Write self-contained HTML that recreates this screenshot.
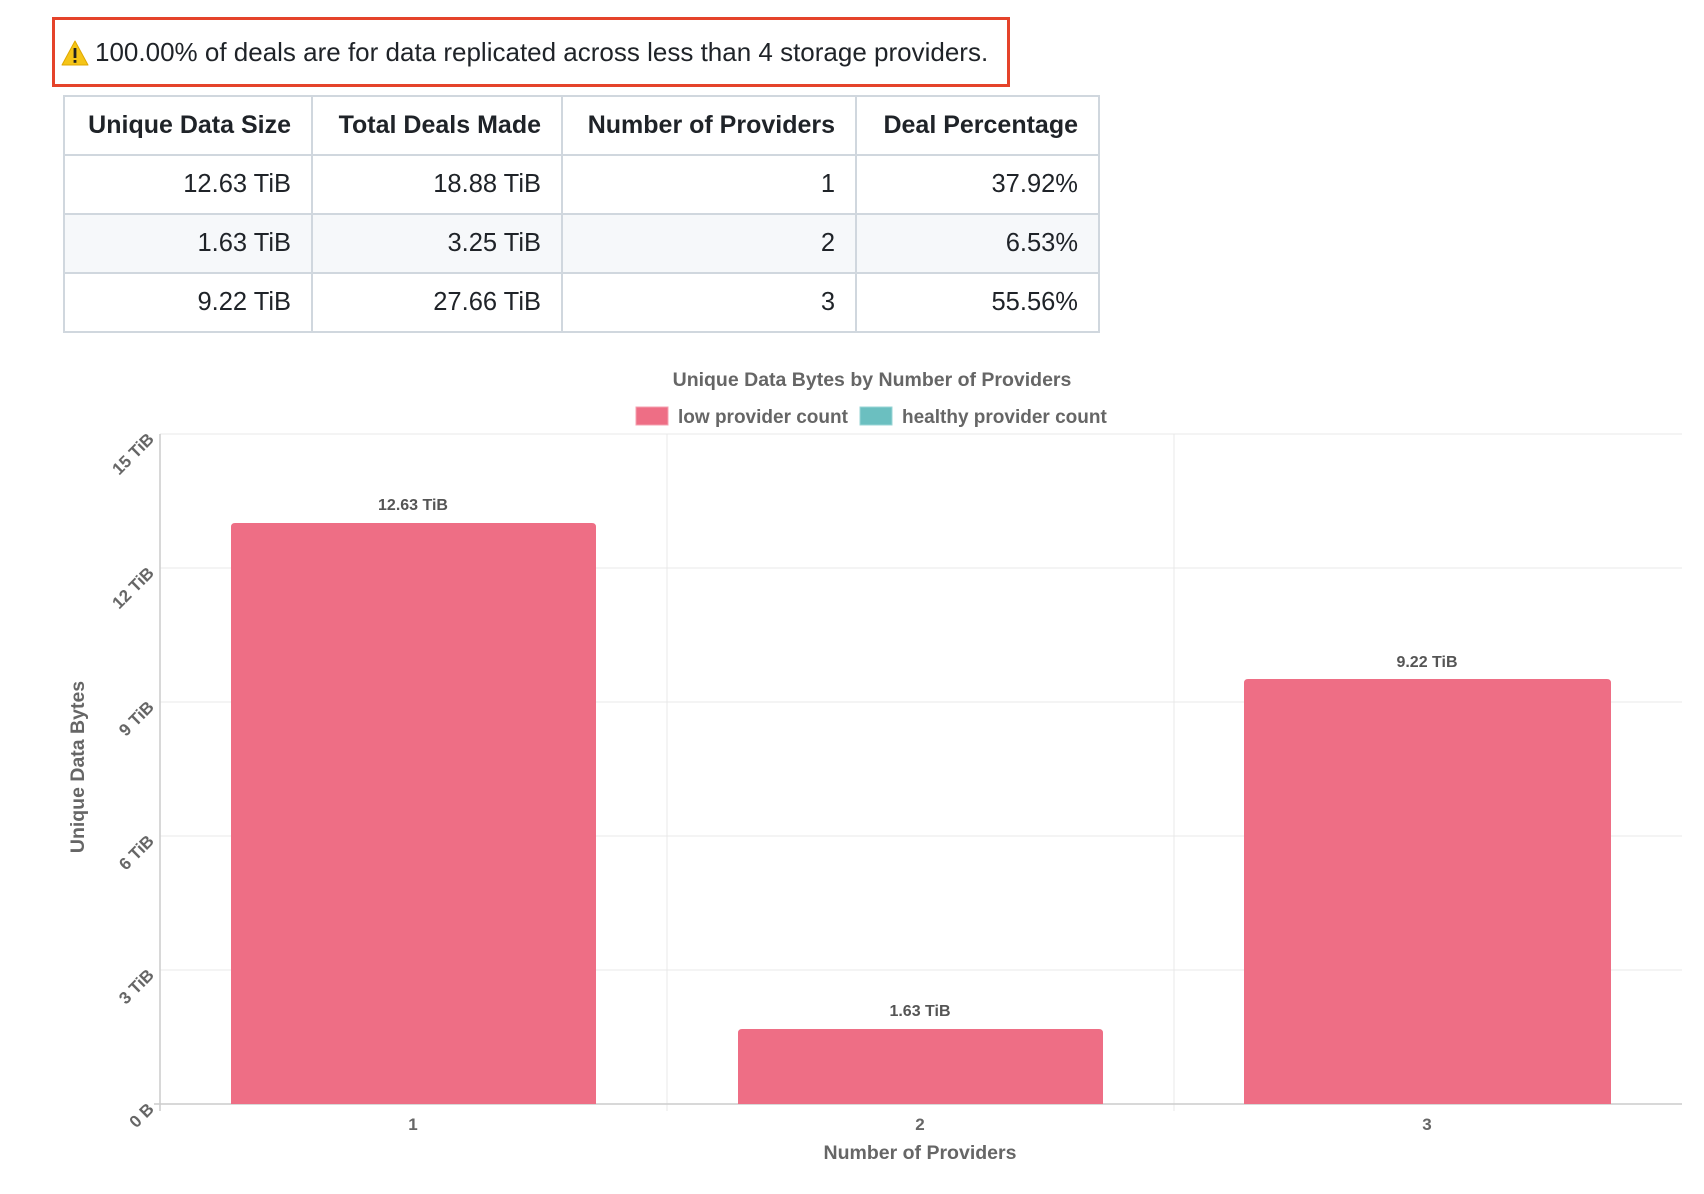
<!DOCTYPE html>
<html><head><meta charset="utf-8"><style>
body{margin:0;width:1704px;height:1194px;background:#fff;position:relative;overflow:hidden;font-family:"Liberation Sans",sans-serif;}
.alert{position:absolute;left:52px;top:17px;width:958px;height:70px;box-sizing:border-box;border:3px solid #e5432a;}
.alert span{position:absolute;left:40px;top:17px;font-size:26px;color:#1f2328;white-space:nowrap;}
table{position:absolute;left:63px;top:95px;border-collapse:collapse;font-size:25.5px;color:#1f2328;}
td,th{border:2px solid #d0d7de;padding:0 20px;text-align:right;height:57px;}
th{font-weight:bold;font-size:25px;}
tr.alt td{background:#f6f8fa;}
</style></head><body>
<div class="alert">
<svg style="position:absolute;left:6px;top:20px" width="28" height="26" viewBox="0 0 28 26"><path d="M14 1 L27 25 L1 25 Z" fill="#f5c518" stroke="#e0a800" stroke-width="1" stroke-linejoin="round"/><rect x="12.6" y="8" width="2.8" height="10" fill="#222"/><rect x="12.6" y="20" width="2.8" height="2.8" fill="#222"/></svg>
<span>100.00% of deals are for data replicated across less than 4 storage providers.</span></div>
<table>
<tr><th style="width:206px">Unique Data Size</th><th style="width:208px">Total Deals Made</th><th style="width:252px">Number of Providers</th><th style="width:201px">Deal Percentage</th></tr>
<tr><td>12.63 TiB</td><td>18.88 TiB</td><td>1</td><td>37.92%</td></tr>
<tr class="alt"><td>1.63 TiB</td><td>3.25 TiB</td><td>2</td><td>6.53%</td></tr>
<tr><td>9.22 TiB</td><td>27.66 TiB</td><td>3</td><td>55.56%</td></tr>
</table>
<svg style="position:absolute;left:0;top:0" width="1704" height="1194" font-family="Liberation Sans, sans-serif" font-weight="bold" fill="#666">
<text x="872" y="386" text-anchor="middle" font-size="19.5">Unique Data Bytes by Number of Providers</text>
<rect x="636" y="407" width="32" height="18" fill="#ee6e85" stroke="#f4a0b0"/>
<text x="678" y="423" font-size="19">low provider count</text>
<rect x="860" y="407" width="32" height="18" fill="#6bbfc0" stroke="#9ad6d6"/>
<text x="902" y="423" font-size="19">healthy provider count</text>
<g stroke="#e8e8e8" stroke-width="1">
<line x1="160" y1="434" x2="1682" y2="434"/><line x1="160" y1="568" x2="1682" y2="568"/><line x1="160" y1="702" x2="1682" y2="702"/><line x1="160" y1="836" x2="1682" y2="836"/><line x1="160" y1="970" x2="1682" y2="970"/>
<line x1="667" y1="434" x2="667" y2="1111"/><line x1="1174" y1="434" x2="1174" y2="1111"/>
</g>
<g stroke="#ccc" stroke-width="1.5"><line x1="160" y1="434" x2="160" y2="1111"/><line x1="154" y1="1104" x2="1682" y2="1104"/></g>
<g fill="#ee6e85">
<path d="M231 1104 V527 Q231 523 235 523 H592 Q596 523 596 527 V1104 Z"/>
<path d="M738 1104 V1033 Q738 1029 742 1029 H1099 Q1103 1029 1103 1033 V1104 Z"/>
<path d="M1244 1104 V683 Q1244 679 1248 679 H1607 Q1611 679 1611 683 V1104 Z"/>
</g>
<g font-size="16" text-anchor="middle" fill="#555">
<text x="413" y="510">12.63 TiB</text><text x="920" y="1016">1.63 TiB</text><text x="1427" y="667">9.22 TiB</text>
</g>
<g font-size="17" text-anchor="end">
<text transform="translate(155,440) rotate(-45)">15 TiB</text>
<text transform="translate(155,574) rotate(-45)">12 TiB</text>
<text transform="translate(155,708) rotate(-45)">9 TiB</text>
<text transform="translate(155,842) rotate(-45)">6 TiB</text>
<text transform="translate(155,976) rotate(-45)">3 TiB</text>
<text transform="translate(155,1110) rotate(-45)">0 B</text>
</g>
<g font-size="17" text-anchor="middle">
<text x="413" y="1130">1</text><text x="920" y="1130">2</text><text x="1427" y="1130">3</text>
<text x="920" y="1159" font-size="19.5">Number of Providers</text>
<text transform="translate(84,767) rotate(-90)" font-size="19.5">Unique Data Bytes</text>
</g>
</svg>
</body></html>
